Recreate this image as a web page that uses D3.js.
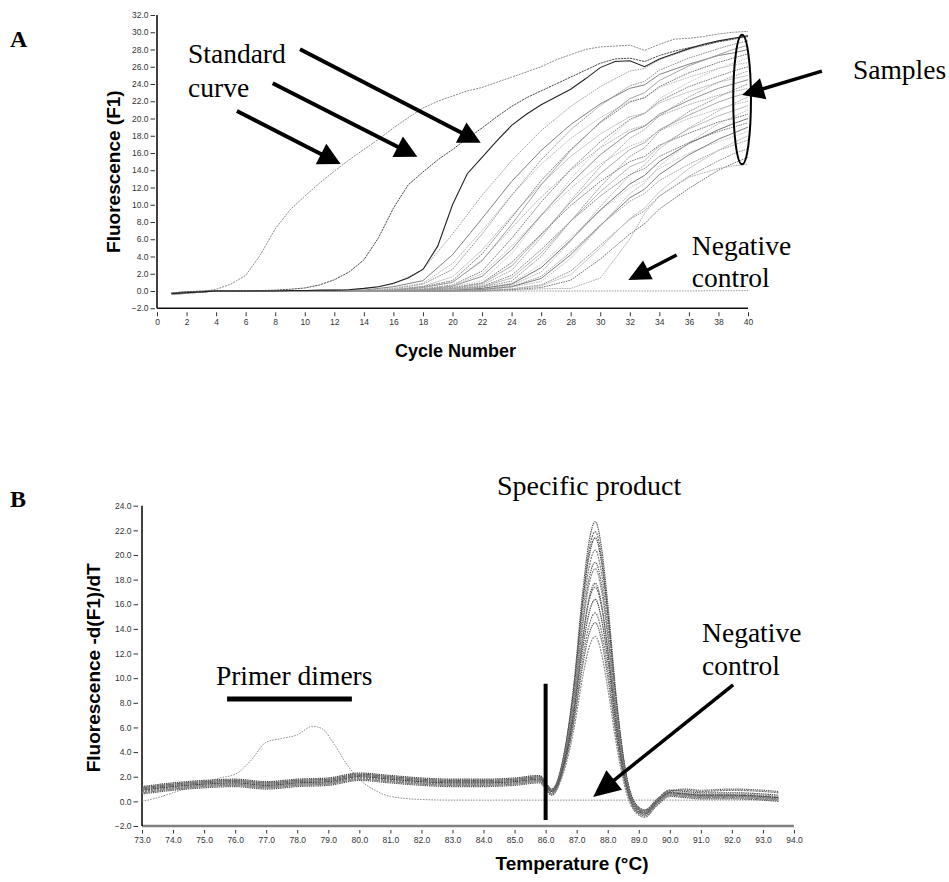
<!DOCTYPE html>
<html><head><meta charset="utf-8">
<script src="https://cdn.jsdelivr.net/npm/d3@7"></script>
<style>body{margin:0;background:#fff} svg{display:block}</style>
</head><body>
<svg id="c" width="949" height="882"></svg>
<script>
// ---------------- Panel A data (amplification) ----------------
const yTicksA = [-2,0,2,4,6,8,10,12,14,16,18,20,22,24,26,28,30,32];
const xTicksA = [0,2,4,6,8,10,12,14,16,18,20,22,24,26,28,30,32,34,36,38,40];
const stdCycles = [1,2,3,4,5,6,7,8,9,10,11,12,13,14,15,16,17,18,19,20,21,22,23,24,25,26,27,28,29,30,31,32,33,34,35,36,37,38,39,40];
const std1 = [-0.3,-0.2,-0.1,0.2,0.8,1.8,4.2,7.2,9.4,11.0,12.5,13.9,15.2,16.4,17.6,18.9,20.1,21.2,22.0,22.6,23.2,23.6,24.2,24.8,25.4,26.0,26.8,27.4,28.0,28.3,28.4,28.5,27.9,28.6,29.2,29.3,29.5,29.8,30.0,30.1];
const std2 = [-0.3,-0.1,0.0,0.0,0.0,0.0,0.05,0.1,0.2,0.35,0.7,1.3,2.2,3.6,6.2,9.6,12.3,13.8,15.2,16.4,17.7,18.9,20.2,21.4,22.4,23.2,24.0,24.8,25.6,26.4,26.9,27.0,26.6,27.3,27.8,28.2,28.5,28.9,29.2,29.5];
const std3 = [-0.3,-0.2,-0.1,0.0,0.0,0.0,0.0,0.0,0.05,0.05,0.1,0.1,0.15,0.3,0.5,0.9,1.5,2.5,5.2,10.0,13.6,15.5,17.4,19.2,20.5,21.6,22.5,23.4,24.6,25.9,26.6,26.7,26.0,26.9,27.5,28.1,28.6,29.0,29.3,29.6];
const negCyclesA = [1,5,10,15,20,25,30,35,40];
const negA = [-0.2,0.0,0.0,0.0,0.0,0.0,0.0,0.0,0.05];
const sampleCycles = [1,4,10,14,16,18,20,22,24,26,28,30,32,33,34,36,38,39,40];
const s1 = [-0.3,0.0,0.0,0.25,0.8,2.5,6.6,11.1,15.1,18.6,21.4,23.7,25.5,25.8,26.8,28.0,28.9,29.2,29.6];
const s2 = [-0.2,0.0,0.0,0.1,0.5,1.2,4.2,8.4,12.7,16.3,19.3,21.7,23.5,23.9,25.1,26.3,27.3,27.6,28.0];
const s3 = [-0.3,0.0,0.0,0.1,0.35,0.9,3.2,7.0,11.1,14.7,17.7,20.1,22.0,22.4,23.6,24.8,25.8,26.2,26.5];
const s4 = [-0.4,0.0,0.0,0.05,0.25,0.8,2.5,6.6,11.1,15.2,18.7,21.5,23.8,24.3,25.6,27.0,28.1,28.6,29.0];
const s5 = [-0.2,0.0,0.0,0.0,0.2,0.55,1.65,4.75,8.7,12.4,15.6,18.2,20.2,20.6,21.8,23.1,24.2,24.6,25.0];
const s6 = [-0.3,0.0,0.0,0.0,0.1,0.5,1.2,4.3,8.5,12.8,16.4,19.5,21.9,22.4,23.7,25.3,26.5,27.0,27.5];
const s7 = [-0.3,0.0,0.0,0.0,0.1,0.4,1.0,3.6,7.3,10.9,14.0,16.6,18.7,19.2,20.3,21.6,22.7,23.1,23.5];
const s8 = [-0.2,0.0,0.0,0.0,0.1,0.4,1.0,3.5,7.7,12.3,16.3,19.6,22.3,23.0,24.4,26.1,27.4,28.0,28.5];
const s9 = [-0.4,0.0,0.0,0.0,0.05,0.25,0.7,2.3,6.1,10.3,14.1,17.3,19.9,20.6,22.0,23.7,24.9,25.5,26.0];
const s10 = [-0.3,0.0,0.0,0.0,0.05,0.2,0.6,2.0,5.2,8.7,11.9,14.7,16.8,17.4,18.6,20.0,21.1,21.6,22.0];
const s11 = [-0.2,0.0,0.0,0.0,0.0,0.15,0.55,1.7,4.8,8.8,12.5,15.8,18.4,19.1,20.5,22.1,23.5,24.0,24.5];
const s12 = [-0.3,0.0,0.0,0.0,0.0,0.1,0.5,1.2,4.3,8.7,13.0,16.7,19.8,20.6,22.3,24.2,25.8,26.4,27.0];
const s13 = [-0.3,0.0,0.0,0.0,0.0,0.1,0.4,0.95,3.3,6.6,9.9,12.7,15.0,15.6,16.9,18.3,19.6,20.0,20.5];
const s14 = [-0.4,0.0,0.0,0.0,0.0,0.1,0.3,0.85,2.9,6.5,10.3,13.6,16.4,17.2,18.7,20.4,21.9,22.5,23.0];
const s15 = [-0.2,0.0,0.0,0.0,0.0,0.05,0.25,0.7,2.4,6.2,10.5,14.4,17.7,18.7,20.3,22.5,24.2,24.9,25.5];
const s16 = [-0.3,0.0,0.0,0.0,0.0,0.0,0.2,0.55,1.8,4.8,8.1,11.0,13.5,14.2,15.6,17.2,18.5,19.0,19.5];
const s17 = [-0.3,0.0,0.0,0.0,0.0,0.0,0.15,0.5,1.5,4.4,8.1,11.5,14.4,15.1,16.8,18.8,20.3,20.9,21.5];
const s18 = [-0.2,0.0,0.0,0.0,0.0,0.0,0.1,0.45,1.15,4.0,8.1,12.1,15.6,16.6,18.5,20.8,22.5,23.3,24.0];
const s19 = [-0.4,0.0,0.0,0.0,0.0,0.0,0.1,0.35,0.9,3.1,6.2,9.3,12.0,12.8,14.2,16.0,17.3,17.9,18.5];
const s20 = [-0.3,0.0,0.0,0.0,0.0,0.0,0.05,0.3,0.8,2.7,5.9,9.4,12.4,13.4,15.0,17.1,18.7,19.4,20.0];
const s21 = [-0.2,0.0,0.0,0.0,0.0,0.0,0.05,0.2,0.65,2.2,5.8,9.8,13.4,14.6,16.5,18.9,20.9,21.7,22.5];
const s22 = [-0.3,0.0,0.0,0.0,0.0,0.0,0.0,0.15,0.5,1.7,4.5,7.6,10.4,11.3,12.8,14.7,16.3,16.9,17.5];
const s23 = [-0.3,0.0,0.0,0.0,0.0,0.0,0.0,0.15,0.5,1.45,4.2,7.6,10.8,11.8,13.5,15.8,17.6,18.3,19.0];
const s24 = [-0.4,0.0,0.0,0.0,0.0,0.0,0.0,0.1,0.45,1.1,3.8,7.5,11.3,12.5,14.5,17.2,19.4,20.2,21.0];
const s25 = [-0.2,0.0,0.0,0.0,0.0,0.0,0.0,0.05,0.25,0.7,2.3,5.3,8.3,9.3,11.0,13.3,15.1,15.9,16.5];
const s26 = [-0.3,0.0,0.0,0.0,0.0,0.0,0.0,0.0,0.2,0.6,1.9,5.0,8.4,9.6,11.5,14.2,16.3,17.2,18.0];
const s27 = [-0.3,0.0,0.0,0.0,0.0,0.0,0.0,0.0,0.15,0.4,1.25,3.7,6.6,7.8,9.5,11.9,14.0,14.8,15.5];
const s28 = [-0.2,0.0,0.0,0.0,0.0,0.0,0.0,0.0,0.05,0.25,0.3,1.5,6.0,9.0,11.0,13.2,14.2,14.5,14.7];
const samplesA = [s1,s2,s3,s4,s5,s6,s7,s8,s9,s10,s11,s12,s13,s14,s15,s16,s17,s18,s19,s20,s21,s22,s23,s24,s25,s26,s27,s28];

// ---------------- Panel B data (melting curves) ----------------
const yTicksB = [-2,0,2,4,6,8,10,12,14,16,18,20,22,24];
const xTicksB = [73,74,75,76,77,78,79,80,81,82,83,84,85,86,87,88,89,90,91,92,93,94];
const meltTemps = [73,74,75,76,77,78,79,80,81,82,83,84,85,85.8,86.2,86.6,86.9,87.2,87.4,87.6,87.8,88.0,88.3,88.6,88.9,89.2,89.6,90.0,90.5,91,92,93,93.5];
const b1 = [1.1,1.4,1.6,1.7,1.5,1.7,1.8,2.2,2.0,1.8,1.7,1.7,1.8,2.0, 0.9,3.9,9.3,17.1,21.1,22.7,20.6,16.1,7.9,2.1,-0.3,-0.9,0.0,0.7, 0.6,0.5,0.5,0.4,0.3];
const b2 = [0.8,1.1,1.3,1.4,1.2,1.4,1.5,1.9,1.7,1.5,1.4,1.4,1.5,1.7, 0.8,3.8,9.0,16.5,20.4,21.9,19.9,15.5,7.6,2.0,-0.4,-1.0,-0.1,0.6, 0.5,0.4,0.4,0.3,0.2];
const b3 = [1.2,1.5,1.7,1.8,1.6,1.8,1.9,2.3,2.1,1.9,1.8,1.8,1.9,2.1, 1.0,3.9,8.9,16.2,19.9,21.4,19.4,15.2,7.5,2.1,-0.2,-0.7,0.2,0.9, 0.8,0.7,0.7,0.6,0.5];
const b4 = [0.9,1.2,1.4,1.5,1.3,1.5,1.6,2.0,1.8,1.6,1.5,1.5,1.6,1.8, 0.8,3.6,8.4,15.4,19.0,20.4,18.5,14.4,7.0,1.8,-0.4,-0.9,0.0,0.7, 0.6,0.5,0.5,0.4,0.3];
const b5 = [0.7,1.0,1.2,1.3,1.1,1.3,1.4,1.8,1.6,1.4,1.3,1.3,1.4,1.6, 0.6,3.3,7.9,14.6,18.1,19.4,17.6,13.6,6.5,1.5,-0.7,-1.1,-0.2,0.5, 0.4,0.3,0.3,0.2,0.1];
const b6 = [1.0,1.3,1.5,1.6,1.4,1.6,1.7,2.1,1.9,1.7,1.6,1.6,1.7,1.9, 0.9,3.5,7.9,14.3,17.6,18.9,17.1,13.3,6.5,1.7,-0.4,-0.8,0.1,0.8, 0.7,0.6,0.6,0.5,0.4];
const b7 = [0.6,0.9,1.1,1.2,1.0,1.2,1.3,1.7,1.5,1.3,1.2,1.2,1.3,1.5, 0.5,3.0,7.2,13.3,16.5,17.7,16.0,12.3,5.8,1.2,-0.8,-1.2,-0.3,0.4, 0.3,0.2,0.2,0.1,0.0];
const b8 = [1.1,1.4,1.6,1.7,1.5,1.7,1.8,2.2,2.0,1.8,1.7,1.7,1.8,2.0, 1.0,3.4,7.4,13.3,16.3,17.4,15.8,12.3,6.0,1.6,-0.3,-0.7,0.2,0.9, 0.9,0.8,0.9,0.8,0.7];
const b9 = [0.9,1.2,1.4,1.5,1.3,1.5,1.6,2.0,1.8,1.6,1.5,1.5,1.6,1.8, 0.8,3.1,6.9,12.5,15.3,16.4,14.8,11.5,5.5,1.3,-0.6,-1.0,0.0,0.7, 0.6,0.5,0.5,0.4,0.3];
const b10 = [0.8,1.1,1.3,1.4,1.2,1.4,1.5,1.9,1.7,1.5,1.4,1.4,1.5,1.7, 0.7,2.8,6.4,11.7,14.3,15.3,13.8,10.7,5.0,1.0,-0.7,-1.0,-0.1,0.6, 0.5,0.4,0.4,0.3,0.2];
const b11 = [1.0,1.3,1.5,1.6,1.4,1.6,1.7,2.1,1.9,1.7,1.6,1.6,1.7,1.9, 0.9,2.9,6.3,11.1,13.6,14.5,13.1,10.1,4.9,1.1,-0.5,-0.8,0.1,0.8, 1.0,0.9,1.0,0.9,0.8];
const b12 = [0.7,1.0,1.2,1.3,1.1,1.3,1.4,1.8,1.6,1.4,1.3,1.3,1.4,1.6, 0.6,2.5,5.7,10.2,12.5,13.4,12.0,9.2,4.3,0.7,-0.9,-1.3,-0.2,0.5, 0.4,0.3,0.3,0.2,0.1];
const samplesB = [b1,b2,b3,b4,b5,b6,b7,b8,b9,b10,b11,b12];
const dimerTemps = [73,73.5,74,74.5,75,75.5,76,76.5,77,77.5,78,78.5,78.8,79.2,79.6,80,80.5,81,82,83,84,85,86,87,88,89,90,91,92,93,93.5];
const dimerCurve = [0.0,0.3,0.7,1.1,1.5,1.9,2.2,3.3,4.8,5.1,5.4,6.1,5.9,4.6,3.0,1.8,0.9,0.4,0.15,0.1,0.1,0.1,0.1,0.1,0.1,0.1,0.1,0.1,0.1,0.1,0.1];

// ---------------- drawing ----------------
const svg = d3.select("#c");
const serif = "'Liberation Serif','Times New Roman',serif";
const sans = "'Liberation Sans',Arial,sans-serif";
const fmt1 = d3.format(".1f");

function arrow(g, x1, y1, x2, y2, w, hl, hw) {
  const dx = x2 - x1, dy = y2 - y1, L = Math.hypot(dx, dy), ux = dx / L, uy = dy / L;
  const bx = x2 - ux * hl, by = y2 - uy * hl;
  g.append("line").attr("x1", x1).attr("y1", y1).attr("x2", bx + ux * 2).attr("y2", by + uy * 2)
    .attr("stroke", "#000").attr("stroke-width", w);
  g.append("path").attr("d", `M${x2},${y2}L${bx - uy * hw / 2},${by + ux * hw / 2}L${bx + uy * hw / 2},${by - ux * hw / 2}Z`)
    .attr("fill", "#000");
}
function text(g, x, y, s, size, anchor) {
  return g.append("text").attr("x", x).attr("y", y).text(s)
    .attr("font-family", serif).attr("font-size", size).attr("text-anchor", anchor || "start").attr("fill", "#000");
}
const graysA = ["#9a9a9a", "#727272", "#b2b2b2", "#858585", "#c2c2c2", "#666666", "#a3a3a3"];
const graysB = ["#555", "#6a6a6a", "#444", "#7a7a7a", "#5f5f5f", "#8a8a8a"];

// ===== Panel A =====
const xA = d3.scaleLinear().domain([0, 40]).range([157, 748]);
const yA = d3.scaleLinear().domain([-2, 32]).range([308.25, 15]);
const gA = svg.append("g");

gA.append("line").attr("x1", xA(0)).attr("x2", xA(40)).attr("y1", yA(-2)).attr("y2", yA(-2)).attr("stroke", "#111").attr("stroke-width", 1.6);
gA.append("line").attr("x1", xA(0)).attr("x2", xA(0)).attr("y1", yA(32)).attr("y2", yA(-2)).attr("stroke", "#111").attr("stroke-width", 1.6);
const axA_x = gA.append("g").attr("transform", `translate(0,${yA(-2) + 4})`)
  .call(d3.axisBottom(xA).tickValues(xTicksA).tickSize(4).tickPadding(3).tickFormat(d3.format("d")));
const axA_y = gA.append("g").attr("transform", `translate(${xA(0) - 2},0)`)
  .call(d3.axisLeft(yA).tickValues(yTicksA).tickSize(4.5).tickPadding(2).tickFormat(fmt1));
[axA_x, axA_y].forEach(a => {
  a.select(".domain").remove();
  a.selectAll("line").attr("stroke", "#333");
  a.selectAll("text").attr("font-family", sans).attr("font-size", 8.5).attr("fill", "#333");
});

const lineA = d3.line().x(d => xA(d[0])).y(d => yA(d[1]));
gA.append("path").datum(negCyclesA.map((c, i) => [c, negA[i]])).attr("d", lineA)
  .attr("fill", "none").attr("stroke", "#999").attr("stroke-width", 1).attr("stroke-dasharray", "1.5,1.2");
samplesA.forEach((s, k) => {
  gA.append("path").datum(sampleCycles.map((c, i) => [c, s[i]])).attr("d", lineA)
    .attr("fill", "none").attr("stroke", graysA[k % graysA.length]).attr("stroke-width", 0.9)
    .attr("stroke-dasharray", k % 3 === 1 ? null : "1.6,0.9");
});
gA.append("path").datum(stdCycles.map((c, i) => [c, std1[i]])).attr("d", lineA)
  .attr("fill", "none").attr("stroke", "#8a8a8a").attr("stroke-width", 1).attr("stroke-dasharray", "2,1");
gA.append("path").datum(stdCycles.map((c, i) => [c, std2[i]])).attr("d", lineA)
  .attr("fill", "none").attr("stroke", "#4a4a4a").attr("stroke-width", 1).attr("stroke-dasharray", "2.2,0.8");
gA.append("path").datum(stdCycles.map((c, i) => [c, std3[i]])).attr("d", lineA)
  .attr("fill", "none").attr("stroke", "#222").attr("stroke-width", 1.1);

gA.append("text").attr("transform", `translate(120,${(yA(32) + yA(-2)) / 2 + 10}) rotate(-90)`)
  .attr("text-anchor", "middle").attr("font-family", sans).attr("font-weight", "bold").attr("font-size", 19).text("Fluorescence (F1)");
gA.append("text").attr("x", (xA(0) + xA(40)) / 2 + 3).attr("y", 357)
  .attr("text-anchor", "middle").attr("font-family", sans).attr("font-weight", "bold").attr("font-size", 18).text("Cycle Number");

text(gA, xA(2.1), yA(26.4), "Standard", 27.5);
text(gA, xA(2.1), yA(22.5), "curve", 27.5);
arrow(gA, xA(5.41), yA(20.87), xA(12.43), yA(14.72), 4, 22, 23);
arrow(gA, xA(7.83), yA(24.08), xA(17.62), yA(15.57), 4, 22, 23);
arrow(gA, xA(9.68), yA(28.02), xA(21.91), yA(17.19), 4, 22, 23);
gA.append("ellipse").attr("cx", xA(39.6)).attr("cy", yA(22.2)).attr("rx", xA(40.2) - xA(39.6)).attr("ry", yA(22.2) - yA(29.7))
  .attr("fill", "none").attr("stroke", "#000").attr("stroke-width", 2);
arrow(gA, xA(45.0), yA(25.5), xA(39.6), yA(22.72), 3.5, 22, 22);
text(gA, xA(47.1), yA(24.6), "Samples", 27.5);
arrow(gA, xA(35.17), yA(4.17), xA(31.9), yA(1.28), 3.5, 22, 21);
text(gA, xA(36.2), yA(4.2), "Negative", 27.5);
text(gA, xA(36.2), yA(0.45), "control", 27.5);
svg.append("text").attr("x", 10).attr("y", 47).attr("font-family", serif).attr("font-weight", "bold").attr("font-size", 24).text("A");

// ===== Panel B =====
const xB = d3.scaleLinear().domain([73, 94]).range([142, 794]);
const yB = d3.scaleLinear().domain([-2, 24]).range([826, 505.7]);
const gB = svg.append("g");

gB.append("line").attr("x1", xB(73)).attr("x2", xB(94)).attr("y1", yB(-2)).attr("y2", yB(-2)).attr("stroke", "#808080").attr("stroke-width", 2.5);
gB.append("line").attr("x1", xB(73)).attr("x2", xB(73)).attr("y1", yB(24)).attr("y2", yB(-2)).attr("stroke", "#111").attr("stroke-width", 1.6);
const axB_x = gB.append("g").attr("transform", `translate(0,${yB(-2) + 4})`)
  .call(d3.axisBottom(xB).tickValues(xTicksB).tickSize(3.5).tickPadding(3).tickFormat(fmt1));
const axB_y = gB.append("g").attr("transform", `translate(${xB(73) - 4},0)`)
  .call(d3.axisLeft(yB).tickValues(yTicksB).tickSize(4.5).tickPadding(2).tickFormat(fmt1));
[axB_x, axB_y].forEach(a => {
  a.select(".domain").remove();
  a.selectAll("line").attr("stroke", "#333");
  a.selectAll("text").attr("font-family", sans).attr("font-size", 8.5).attr("fill", "#333");
});

const lineB = d3.line().x(d => xB(d[0])).y(d => yB(d[1])).curve(d3.curveMonotoneX);
gB.append("path").datum(dimerTemps.map((t, i) => [t, dimerCurve[i]])).attr("d", lineB)
  .attr("fill", "none").attr("stroke", "#8f8f8f").attr("stroke-width", 1).attr("stroke-dasharray", "1.6,1.2");
samplesB.forEach((s, k) => {
  gB.append("path").datum(meltTemps.map((t, i) => [t, s[i]])).attr("d", lineB)
    .attr("fill", "none").attr("stroke", graysB[k % graysB.length]).attr("stroke-width", 1.2)
    .attr("stroke-dasharray", k % 2 ? "2,1" : "1.4,0.8");
});

gB.append("text").attr("transform", `translate(100,${(yB(24) + yB(-2)) / 2 + 2}) rotate(-90)`)
  .attr("text-anchor", "middle").attr("font-family", sans).attr("font-weight", "bold").attr("font-size", 19).text("Fluorescence -d(F1)/dT");
gB.append("text").attr("x", 572).attr("y", 870)
  .attr("text-anchor", "middle").attr("font-family", sans).attr("font-weight", "bold").attr("font-size", 19).text("Temperature (°C)");

gB.append("line").attr("x1", xB(86)).attr("x2", xB(86)).attr("y1", yB(9.54)).attr("y2", yB(-1.51)).attr("stroke", "#000").attr("stroke-width", 4);
gB.append("line").attr("x1", xB(75.74)).attr("x2", xB(79.76)).attr("y1", yB(8.31)).attr("y2", yB(8.31)).attr("stroke", "#000").attr("stroke-width", 5);
text(gB, xB(75.38), yB(9.45), "Primer dimers", 27.5);
text(gB, xB(87.4), yB(24.9), "Specific product", 28, "middle");
text(gB, xB(91.04), yB(12.94), "Negative", 27.5);
text(gB, xB(91.04), yB(10.26), "control", 27.5);
arrow(gB, xB(92.04), yB(9.45), xB(87.53), yB(0.36), 3.5, 27, 25);
svg.append("text").attr("x", 10).attr("y", 507).attr("font-family", serif).attr("font-weight", "bold").attr("font-size", 24).text("B");
</script>
</body></html>
